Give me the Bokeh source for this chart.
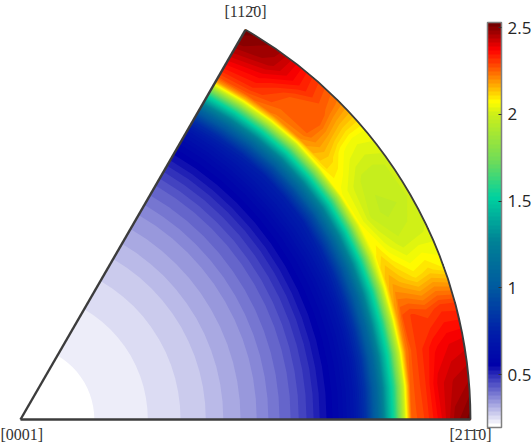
import numpy as np
from bokeh.embed import file_html
from bokeh.models import ColorBar, FixedTicker, Label, LinearColorMapper, Range1d
from bokeh.plotting import figure
from bokeh.resources import INLINE

# Polar sampling of the density (radius in px of the 450 px sector)
angles_deg = [0, 5, 10, 15, 20, 25, 30, 35, 40, 45, 50, 55, 60]
inner_r = [0, 73, 128, 160, 185, 203, 220, 236, 248, 259, 270, 278, 286, 293, 299, 306, 320, 333]
inner_v = [0.200, 0.218, 0.242, 0.265, 0.288, 0.312, 0.335, 0.358, 0.382, 0.405, 0.428, 0.451,
           0.475, 0.498, 0.521, 0.545, 0.60, 0.68]
outer_r = [345, 357, 367, 375, 381, 386, 391, 396, 405, 420, 435, 450]
outer_v = [
    [0.82, 0.82, 0.82, 0.82, 0.81, 0.79, 0.77, 0.75, 0.75, 0.75, 0.77, 0.79, 0.81],
    [1.08, 1.08, 1.08, 1.08, 1.05, 1.02, 0.99, 0.96, 0.96, 0.96, 0.99, 1.02, 1.05],
    [1.38, 1.38, 1.38, 1.38, 1.34, 1.30, 1.26, 1.22, 1.22, 1.22, 1.26, 1.30, 1.34],
    [1.60, 1.60, 1.60, 1.60, 1.57, 1.54, 1.50, 1.46, 1.46, 1.46, 1.50, 1.54, 1.57],
    [1.85, 1.85, 1.85, 1.85, 1.80, 1.75, 1.70, 1.65, 1.65, 1.65, 1.70, 1.75, 1.80],
    [2.07, 2.07, 2.07, 2.07, 2.03, 1.98, 1.93, 1.85, 1.85, 1.85, 1.93, 1.98, 2.03],
    [2.25, 2.25, 2.22, 2.20, 2.15, 2.08, 2.07, 2.07, 2.07, 2.05, 2.10, 2.15, 2.20],
    [2.27, 2.28, 2.27, 2.28, 2.18, 2.10, 2.04, 2.05, 2.12, 2.20, 2.22, 2.26, 2.28],
    [2.30, 2.31, 2.31, 2.30, 2.15, 2.05, 1.99, 2.02, 2.12, 2.25, 2.25, 2.32, 2.34],
    [2.38, 2.40, 2.36, 2.28, 2.10, 2.00, 1.96, 1.98, 2.07, 2.27, 2.27, 2.38, 2.42],
    [2.47, 2.44, 2.39, 2.31, 2.12, 2.01, 1.97, 1.98, 2.05, 2.24, 2.34, 2.45, 2.49],
    [2.52, 2.46, 2.40, 2.30, 2.08, 2.02, 2.00, 2.00, 2.06, 2.22, 2.33, 2.47, 2.52],
]
corner_labels = ["[0001]", "[112\u03040]", "[21\u03041\u03040]"]
corner_x = [-20, 204, 429]
corner_y = [-15, 408, -15]
tick_values = [0.5, 1, 1.5, 2, 2.5]

# Colour map anchors: value -> RGB
cmap_v = [0.195, 0.545, 0.74, 1.0, 1.27, 1.52, 1.73, 2.0, 2.07, 2.30, 2.37, 2.53]
cmap_r = [255, 0, 0, 0, 0, 0, 110, 205, 255, 255, 255, 105]
cmap_g = [255, 0, 30, 90, 130, 210, 220, 240, 255, 60, 0, 0]
cmap_b = [255, 170, 170, 160, 150, 160, 90, 25, 0, 0, 0, 0]
n_levels = 100
low, high = 0.195, 2.53

levels = np.linspace(low, high, n_levels + 1)
mids = 0.5 * (levels[:-1] + levels[1:])
mids[:15] = levels[:15]  # first band stays white
palette = ["#%02x%02x%02x" % (int(np.interp(m, cmap_v, cmap_r)), int(np.interp(m, cmap_v, cmap_g)),
                              int(np.interp(m, cmap_v, cmap_b))) for m in mids]

radii = np.array(inner_r + outer_r, dtype=float)
th = np.radians(angles_deg)
Z = np.vstack([np.tile(np.array(inner_v)[:, None], (1, len(th))), np.array(outer_v)])
R, T = np.meshgrid(radii, th, indexing="ij")
X = R * np.cos(T)
Y = R * np.sin(T)

p = figure(width=531, height=445, output_backend="svg", toolbar_location=None,
           x_axis_type=None, y_axis_type=None,
           x_range=Range1d(-20, 511), y_range=Range1d(-26, 419),
           min_border=0, outline_line_color=None, margin=(0, 0, 0, 0))
p.grid.visible = False

# Each band is drawn from its own lower level up to the top, so no seams show between bands.
for k in range(n_levels):
    if Z.max() > levels[k]:
        p.contour(X, Y, Z, levels=[float(levels[k]), high + 0.01], fill_color=palette[k], line_color=None)

edge = "#3c3c3c"
p.arc(x=[0], y=[0], radius=[450], start_angle=[th[0]], end_angle=[th[-1]], line_color=edge, line_width=1.8)
p.segment(x0=[0, 0], y0=[0, 0], x1=[450 * np.cos(th[0]), 450 * np.cos(th[-1])],
          y1=[450 * np.sin(th[0]), 450 * np.sin(th[-1])], line_color=edge, line_width=2.4)

for lab, lx, ly in zip(corner_labels, corner_x, corner_y):
    p.add_layout(Label(x=lx, y=ly, text=lab, text_font="Liberation Serif", text_font_size="16px",
                       text_align="left", text_baseline="middle", text_color="#333333"))

mapper = LinearColorMapper(palette=palette, low=low, high=high)
cb = ColorBar(color_mapper=mapper, ticker=FixedTicker(ticks=tick_values), location=(487, 18),
              width=14, height=405, padding=0, margin=0, background_fill_color=None,
              bar_line_color="#808080", bar_line_width=1.5, border_line_color=None,
              major_tick_in=3, major_tick_out=0, major_tick_line_color="#333333", minor_tick_line_color=None,
              major_label_text_font="Open Sans", major_label_text_font_size="17px",
              major_label_text_color="#262626", label_standoff=6)
p.add_layout(cb, "center")

open("out.html", "w").write(file_html(p, INLINE))
